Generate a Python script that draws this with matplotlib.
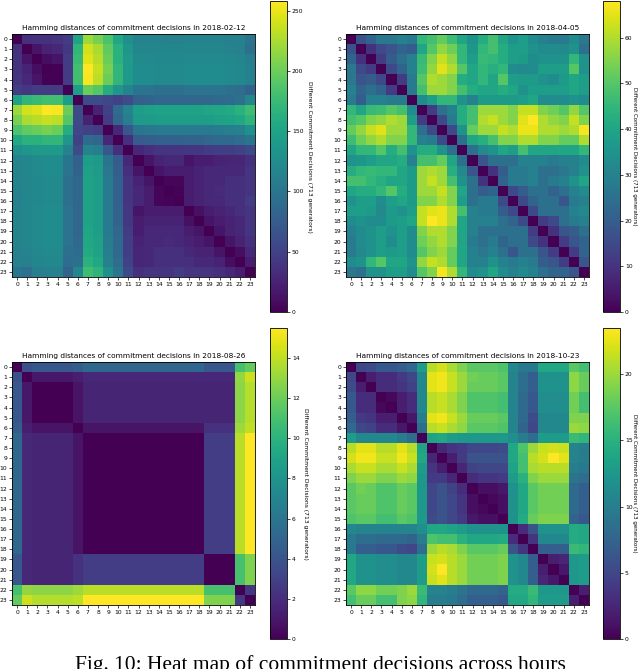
import numpy as np
import matplotlib
matplotlib.use("Agg")
import matplotlib.pyplot as plt

hours = [str(h) for h in range(24)]
dates = ["2018-02-12", "2018-04-05", "2018-08-26", "2018-10-23"]
cbar_label = "Different Commitment Decisions (713 generators)"
caption = "Fig. 10: Heat map of commitment decisions across hours"

# upper triangles (row i holds columns i+1..23), matrices are symmetric
feb12 = [
    [35, 38, 38, 40, 45, 150, 220, 205, 185, 155, 130, 115, 115, 115, 112, 112, 115, 115, 115, 115, 112, 112, 100],
    [15, 25, 30, 42, 170, 240, 225, 195, 165, 135, 118, 118, 118, 118, 118, 118, 118, 118, 118, 115, 112, 95],
    [10, 15, 45, 175, 245, 230, 200, 165, 140, 122, 122, 120, 120, 120, 122, 122, 122, 122, 120, 118, 110],
    [2, 45, 180, 258, 235, 205, 170, 140, 125, 125, 123, 123, 123, 125, 125, 125, 125, 122, 120, 112],
    [45, 180, 255, 232, 200, 170, 140, 125, 125, 122, 122, 122, 125, 125, 125, 125, 122, 120, 112],
    [145, 200, 190, 160, 135, 115, 100, 98, 95, 95, 95, 98, 98, 98, 98, 95, 92, 82],
    [60, 60, 55, 50, 60, 80, 82, 85, 85, 85, 85, 85, 85, 88, 90, 95, 118],
    [25, 50, 90, 115, 145, 148, 150, 150, 150, 150, 150, 152, 155, 158, 165, 178],
    [45, 85, 110, 140, 142, 145, 145, 145, 145, 145, 145, 148, 150, 155, 168],
    [30, 70, 100, 102, 105, 105, 105, 105, 105, 105, 108, 110, 112, 130],
    [35, 75, 78, 80, 80, 80, 82, 82, 85, 88, 88, 92, 100],
    [30, 35, 40, 40, 40, 42, 42, 45, 48, 48, 50, 58],
    [15, 25, 30, 30, 15, 20, 20, 25, 28, 28, 35],
    [15, 20, 20, 20, 25, 30, 30, 30, 30, 40],
    [5, 5, 20, 25, 30, 30, 35, 35, 40],
    [3, 20, 25, 30, 32, 35, 35, 40],
    [20, 25, 30, 30, 35, 35, 45],
    [12, 20, 25, 30, 35, 40],
    [15, 20, 25, 30, 40],
    [15, 25, 30, 40],
    [15, 25, 35],
    [10, 30],
    [20],
]

apr05 = [
    [17, 22, 27, 27, 30, 28, 45, 48, 52, 47, 40, 35, 42, 48, 40, 35, 38, 33, 30, 28, 28, 33, 27],
    [10, 15, 18, 22, 20, 40, 50, 57, 53, 45, 36, 45, 48, 42, 38, 38, 35, 33, 33, 32, 35, 25],
    [12, 20, 25, 30, 46, 55, 62, 57, 45, 38, 46, 45, 42, 38, 37, 33, 35, 35, 35, 45, 35],
    [15, 22, 30, 47, 57, 65, 60, 50, 40, 45, 43, 45, 33, 32, 33, 38, 38, 38, 50, 35],
    [12, 28, 50, 60, 58, 55, 42, 40, 45, 40, 50, 38, 37, 37, 35, 33, 37, 40, 38],
    [28, 48, 58, 58, 55, 48, 42, 40, 40, 42, 40, 35, 38, 38, 38, 38, 40, 38],
    [33, 38, 45, 45, 35, 30, 37, 37, 37, 37, 38, 40, 33, 33, 33, 35, 33],
    [12, 25, 30, 42, 48, 58, 58, 58, 55, 62, 62, 55, 53, 50, 57, 50],
    [15, 28, 42, 48, 60, 62, 58, 55, 65, 68, 60, 57, 55, 62, 55],
    [15, 35, 52, 58, 58, 62, 60, 66, 66, 60, 60, 58, 60, 67],
    [25, 40, 43, 48, 55, 55, 60, 60, 55, 55, 52, 52, 60],
    [25, 32, 35, 40, 38, 48, 40, 40, 40, 40, 40, 45],
    [18, 25, 25, 25, 30, 30, 30, 28, 30, 30, 33],
    [10, 20, 28, 28, 30, 25, 25, 27, 30, 35],
    [22, 28, 28, 30, 25, 28, 30, 35, 40],
    [15, 20, 25, 25, 22, 25, 30, 33],
    [15, 22, 25, 25, 18, 28, 30],
    [15, 25, 25, 25, 30, 32],
    [12, 15, 25, 28, 30],
    [10, 18, 20, 25],
    [12, 18, 22],
    [12, 22],
    [18],
]

aug26 = [
    [3.8, 4.2, 4.2, 4.2, 4.2, 4.6, 5.2, 5.2, 5.2, 5.2, 5.2, 5.2, 5.2, 5.2, 5.2, 5.2, 5.2, 5.2, 4.2, 4.2, 4.2, 11, 11.8],
    [1, 1, 1, 1, 1.3, 1.8, 1.8, 1.8, 1.8, 1.8, 1.8, 1.8, 1.8, 1.8, 1.8, 1.8, 1.8, 1.8, 1.8, 1.8, 13, 14.3],
    [0, 0, 0, 0.8, 1.6, 1.6, 1.6, 1.6, 1.6, 1.6, 1.6, 1.6, 1.6, 1.6, 1.6, 1.6, 1.6, 1.6, 1.6, 12.8, 13.8],
    [0, 0, 0.8, 1.6, 1.6, 1.6, 1.6, 1.6, 1.6, 1.6, 1.6, 1.6, 1.6, 1.6, 1.6, 1.6, 1.6, 1.6, 12.8, 13.8],
    [0, 0.8, 1.6, 1.6, 1.6, 1.6, 1.6, 1.6, 1.6, 1.6, 1.6, 1.6, 1.6, 1.6, 1.6, 1.6, 1.6, 12.8, 13.8],
    [0.8, 1.6, 1.6, 1.6, 1.6, 1.6, 1.6, 1.6, 1.6, 1.6, 1.6, 1.6, 1.6, 1.6, 1.6, 1.6, 12.8, 13.8],
    [0.8, 0.8, 0.8, 0.8, 0.8, 0.8, 0.8, 0.8, 0.8, 0.8, 0.8, 0.8, 2.2, 2.2, 2.2, 13.2, 14],
    [0, 0, 0, 0, 0, 0, 0, 0, 0, 0, 0, 2.8, 2.8, 2.8, 13.9, 15.5],
    [0, 0, 0, 0, 0, 0, 0, 0, 0, 0, 2.8, 2.8, 2.8, 13.9, 15.5],
    [0, 0, 0, 0, 0, 0, 0, 0, 0, 2.8, 2.8, 2.8, 13.9, 15.5],
    [0, 0, 0, 0, 0, 0, 0, 0, 2.8, 2.8, 2.8, 13.9, 15.5],
    [0, 0, 0, 0, 0, 0, 0, 2.8, 2.8, 2.8, 13.9, 15.5],
    [0, 0, 0, 0, 0, 0, 2.8, 2.8, 2.8, 13.9, 15.5],
    [0, 0, 0, 0, 0, 2.8, 2.8, 2.8, 13.9, 15.5],
    [0, 0, 0, 0, 2.8, 2.8, 2.8, 13.9, 15.5],
    [0, 0, 0, 2.8, 2.8, 2.8, 13.9, 15.5],
    [0, 0, 2.8, 2.8, 2.8, 13.9, 15.5],
    [0, 2.8, 2.8, 2.8, 13.9, 15.5],
    [2.8, 2.8, 2.8, 13.9, 15.5],
    [0, 0, 11, 12.5],
    [0, 11, 12.5],
    [11, 12.5],
    [2.5],
]

oct23 = [
    [5, 5.5, 6.5, 6.5, 7, 8, 13, 21, 22, 20.5, 19, 17.5, 17.5, 17.5, 17, 11, 9.5, 9.5, 14, 14, 14, 17.5, 16.5],
    [2, 3, 3, 4, 5, 11, 22.5, 23, 21.5, 20, 18.5, 18, 18, 17.5, 10.5, 8.5, 7, 12, 12, 12, 19.5, 18],
    [3, 3, 3.5, 4.5, 11, 22.5, 23, 21.5, 20, 18, 18, 18, 17.5, 10.5, 8.5, 7, 12, 12, 12, 19.5, 18],
    [0.5, 2, 3, 11, 21, 21.5, 20.5, 19, 17, 17, 17, 16.5, 10.5, 8, 6.5, 11.5, 11.5, 11.5, 18.5, 16.5],
    [2, 3, 11, 21, 21.5, 20.5, 19, 17, 17, 17, 16.5, 10.5, 8, 6.5, 11.5, 11.5, 11.5, 18.5, 16.5],
    [1.5, 10, 22.5, 23, 21.5, 20, 18, 18, 18, 17.5, 10.5, 8, 5.5, 11, 11, 11, 19, 19],
    [8.5, 21, 21.5, 20.5, 19.5, 17.5, 17.5, 17.5, 17, 10.5, 7.5, 5, 11, 11, 11, 20, 19.5],
    [13.5, 14, 13, 12.5, 12.5, 12.5, 12.5, 12.5, 11.5, 10, 8.5, 13, 13, 13, 16, 15.5],
    [2.5, 3.5, 4, 5, 5, 5, 5.5, 14, 17, 20, 21.5, 22, 21.5, 10.5, 10],
    [2, 4, 6, 6, 6, 6, 14, 16.5, 21, 22, 23.5, 22.5, 10.5, 10],
    [2.5, 4.5, 5, 5, 5, 13.5, 16.5, 20.5, 21, 21, 21, 10, 9.5],
    [3, 3.5, 3.5, 4, 13, 15, 19, 20, 20, 20, 9, 8.5],
    [1, 1, 1.5, 12, 14, 17.5, 18.5, 18.5, 18.5, 8, 7],
    [0.5, 1, 12, 14, 17.5, 18.5, 18.5, 18.5, 8, 7],
    [1, 12, 14, 17.5, 18.5, 18.5, 18.5, 8, 7],
    [12, 14.5, 18, 19, 19, 19, 7.5, 6.5],
    [3, 6, 12, 12, 12, 14.5, 14],
    [3.5, 11, 11, 11, 14.5, 14],
    [7, 7, 7, 16, 15.5],
    [2, 2.5, 12.5, 13],
    [1.5, 12.5, 13],
    [12.5, 13],
    [2],
]


def sym(upper):
    n = len(upper) + 1
    m = np.zeros((n, n))
    for i, row in enumerate(upper):
        assert len(row) == n - 1 - i, (i, len(row))
        m[i, i + 1:] = row
    return m + m.T


W, H = 640, 669
fig = plt.figure(figsize=(W / 100, H / 100), dpi=100)

# pixel boxes: (axes left, axes top, cbar left, cbar top, label pad, label size)
boxes = [(12, 34, 270, 1, 6, 4.3), (346, 34, 603, 1, 3.5, 4.0),
         (12, 362, 270, 328, 6, 4.3), (346, 362, 603, 328, 3.5, 4.0)]
mats = [sym(feb12), sym(apr05), sym(aug26), sym(oct23)]

for (axl, axt, cl, ct, lp, ls), m, d in zip(boxes, mats, dates):
    ax = fig.add_axes([axl / W, 1 - (axt + 243) / H, 243 / W, 243 / H])
    im = ax.imshow(m, cmap="viridis")
    ax.set_xticks(np.arange(24))
    ax.set_yticks(np.arange(24))
    ax.set_xticklabels(hours)
    ax.set_yticklabels(hours)
    ax.tick_params(labelsize=4.3, length=2, width=0.5, pad=1.5)
    for s in ax.spines.values():
        s.set_linewidth(0.6)
    ax.set_title("Hamming distances of commitment decisions in " + d, fontsize=5.3, pad=3)

    cax = fig.add_axes([cl / W, 1 - (ct + 311) / H, 17 / W, 311 / H])
    cb = fig.colorbar(im, cax=cax)
    cb.ax.tick_params(labelsize=4.3, length=2, width=0.5, pad=1.5)
    cb.outline.set_linewidth(0.6)
    cb.set_label(cbar_label, rotation=270, fontsize=ls, labelpad=lp)

fig.text(0.5, -1 / H, caption, ha="center", va="baseline",
         family=["Liberation Serif", "DejaVu Serif"], fontsize=15.5)

fig.savefig("out.png", dpi=100)
